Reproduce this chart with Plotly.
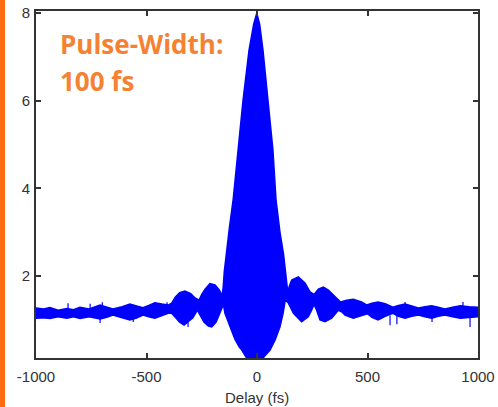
import plotly.graph_objects as go

# Upper envelope of the interferometric autocorrelation trace
upper_delay = [-1000, -965, -937, -900, -860, -830, -801, -760, -710, -680, -652, -610,
               -575, -545, -516, -490, -462, -430, -400, -386, -370, -350, -326, -300,
               -280, -262, -250, -235, -213, -190, -170, -158, -153, -148, -140, -125,
               -108, -86, -63, -36, -15, -1, 12, 27, 50, 72, 86, 104, 120, 133, 140,
               145, 157, 187, 217, 240, 258, 278, 300, 323, 353, 378, 406, 436, 473,
               496, 520, 548, 580, 615, 640, 670, 700, 730, 760, 790, 820, 850, 885,
               920, 960, 1000]
upper_value = [1.27, 1.25, 1.28, 1.22, 1.26, 1.23, 1.29, 1.25, 1.34, 1.30, 1.25, 1.30,
               1.36, 1.32, 1.28, 1.33, 1.39, 1.36, 1.34, 1.38, 1.52, 1.62, 1.66, 1.60,
               1.50, 1.45, 1.58, 1.70, 1.83, 1.80, 1.68, 1.55, 1.75, 2.10, 2.50, 3.10,
               3.74, 4.88, 6.02, 7.16, 7.75, 8.00, 7.75, 7.16, 6.02, 4.88, 3.74, 3.00,
               2.50, 2.00, 1.60, 1.75, 1.91, 1.98, 1.84, 1.64, 1.58, 1.70, 1.75, 1.68,
               1.53, 1.41, 1.45, 1.47, 1.41, 1.34, 1.38, 1.41, 1.37, 1.29, 1.33, 1.36,
               1.32, 1.27, 1.30, 1.32, 1.29, 1.25, 1.29, 1.32, 1.30, 1.29]

# Lower envelope
lower_delay = [-1000, -965, -937, -900, -860, -830, -801, -760, -710, -680, -652, -610,
               -575, -545, -516, -490, -462, -430, -402, -386, -370, -350, -330, -310,
               -290, -270, -255, -240, -220, -205, -185, -170, -160, -152, -145, -130,
               -115, -100, -80, -69, -47, -10, 27, 59, 82, 104, 118, 128, 140, 150,
               165, 179, 202, 232, 247, 258, 270, 285, 308, 338, 368, 385, 398, 436,
               462, 481, 500, 520, 548, 580, 615, 640, 670, 700, 730, 760, 790, 820,
               850, 885, 920, 960, 1000]
lower_value = [1.04, 1.05, 1.03, 1.07, 1.04, 1.07, 1.03, 1.07, 1.02, 1.06, 1.11, 1.05,
               1.00, 1.04, 1.11, 1.07, 1.04, 1.09, 1.15, 1.15, 1.05, 0.95, 0.88, 0.96,
               1.05, 1.22, 1.07, 0.95, 0.86, 0.84, 0.95, 1.10, 1.25, 1.35, 1.15, 0.95,
               0.75, 0.56, 0.38, 0.31, 0.13, 0.00, 0.13, 0.31, 0.54, 0.84, 1.15, 1.45,
               1.40, 1.30, 1.15, 1.07, 0.96, 1.07, 1.22, 1.35, 1.22, 1.00, 0.96, 1.04,
               1.22, 1.18, 1.11, 1.04, 1.08, 1.11, 1.14, 1.06, 1.00, 1.08, 1.15, 1.08,
               1.04, 1.08, 1.11, 1.07, 1.04, 1.08, 1.11, 1.07, 1.04, 1.06, 1.07]

# Noise spikes
spike_delay = [-855, -755, -710, -700, -560, -462, -407, -312, -199, 602, 633, 670, 792, 932, 964]
spike_low = [1.20, 1.20, 0.93, 1.20, 0.95, 1.20, 1.20, 0.84, 0.86, 0.88, 0.90, 1.20, 0.95, 1.20, 0.84]
spike_high = [1.38, 1.37, 1.10, 1.40, 1.10, 1.40, 1.40, 1.10, 1.10, 1.10, 1.10, 1.41, 1.10, 1.41, 1.10]

x_ticks = [-1000, -500, 0, 500, 1000]
x_tick_text = ["-1000", "-500", "0", "500", "1000"]
y_ticks = [2, 4, 6, 8]
y_tick_text = ["2", "4", "6", "8"]
x_label = "Delay (fs)"
note_line1 = "Pulse-Width:"
note_line2 = "100 fs"

BLUE = "#0000ff"

fig = go.Figure()
poly_x = upper_delay + lower_delay[::-1]
poly_y = upper_value + lower_value[::-1]
fig.add_trace(go.Scatter(x=poly_x, y=poly_y, mode="lines", fill="toself",
                         fillcolor=BLUE, line=dict(color=BLUE, width=1.5),
                         hoverinfo="skip", showlegend=False))

sx, sy = [], []
for d, lo, hi in zip(spike_delay, spike_low, spike_high):
    sx += [d, d, None]
    sy += [lo, hi, None]
fig.add_trace(go.Scatter(x=sx, y=sy, mode="lines", line=dict(color=BLUE, width=1.2),
                         hoverinfo="skip", showlegend=False))

TICK_FONT = dict(family="Liberation Sans, Arial, sans-serif", size=15, color="#333333")
axis_common = dict(showline=True, linecolor="#333333", linewidth=2, mirror="ticks",
                   ticks="inside", ticklen=5, tickwidth=1.5, tickcolor="#333333",
                   showgrid=False, zeroline=False, automargin=False,
                   tickfont=TICK_FONT)

fig.update_layout(
    width=498, height=407,
    margin=dict(l=36, r=20, t=11, b=49, autoexpand=False),
    paper_bgcolor="white", plot_bgcolor="white",
    xaxis=dict(range=[-1000, 1000], tickvals=x_ticks, ticktext=x_tick_text,
               ticklabelstandoff=4, **axis_common),
    yaxis=dict(range=[0.13, 8.05], tickvals=y_ticks, ticktext=y_tick_text,
               ticklabelstandoff=1, **axis_common),
)

# x-axis title placed as annotation for exact position
fig.add_annotation(xref="paper", yref="paper", x=(257 - 36) / 442, y=-(397 - 358) / 347,
                   text=x_label, showarrow=False, xanchor="center", yanchor="middle",
                   font=TICK_FONT)

note_font = dict(family="Open Sans, sans-serif", size=26, color="#f58233")
fig.add_annotation(xref="paper", yref="paper", x=(58 - 36) / 442, y=1 - (44 - 11) / 347,
                   text="<b>%s</b>" % note_line1, showarrow=False, xanchor="left",
                   yanchor="middle", font=note_font)
fig.add_annotation(xref="paper", yref="paper", x=(58 - 36) / 442, y=1 - (81 - 11) / 347,
                   text="<b>%s</b>" % note_line2, showarrow=False, xanchor="left",
                   yanchor="middle", font=note_font)

# orange bar on the left edge of the slide
fig.add_shape(type="rect", xref="paper", yref="paper",
              x0=(0 - 36) / 442, x1=(5 - 36) / 442, y0=-49 / 347, y1=1 + 11 / 347,
              fillcolor="#ff6a10", line=dict(width=0), layer="above")

fig.write_html("out.html", config={"displayModeBar": False},
               post_script="document.body.style.margin='0';document.body.style.overflow='hidden';")
